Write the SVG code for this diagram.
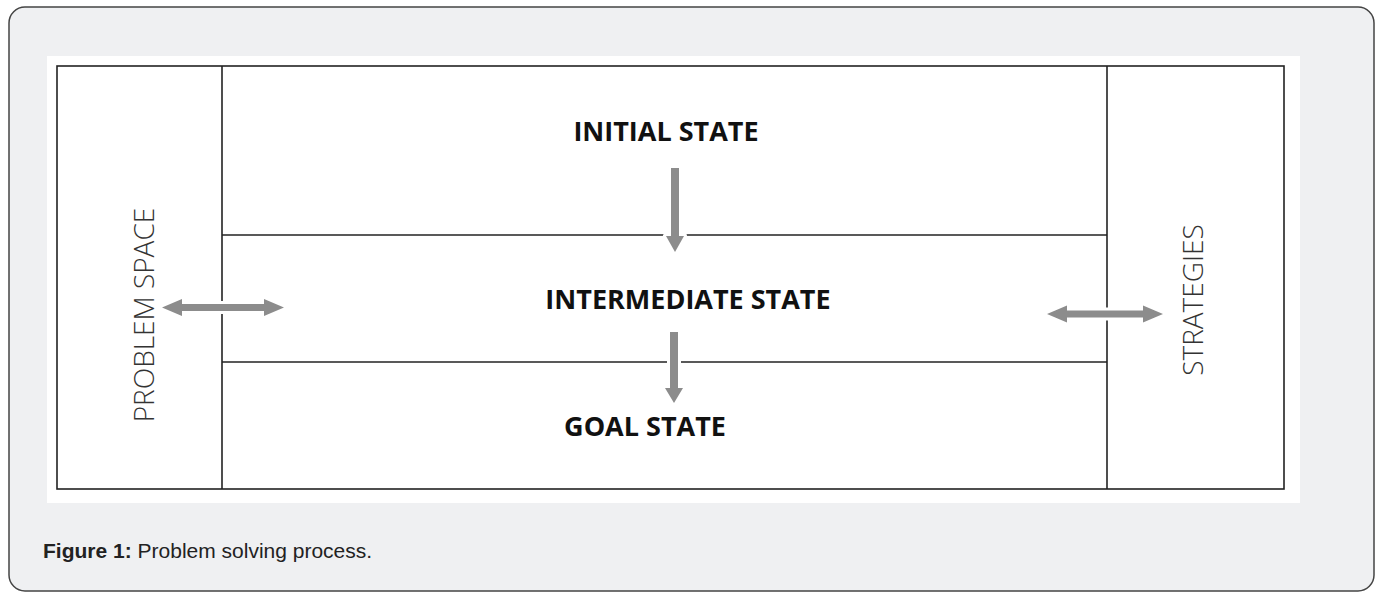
<svg xmlns="http://www.w3.org/2000/svg" width="1378" height="593" viewBox="0 0 1378 593">
<style>
.frame{fill:#eff0f2;stroke:#444;stroke-width:1.5}
.line{stroke:#222;stroke-width:1.6;fill:none}
.bold{font-family:"Open Sans","Liberation Sans",sans-serif;font-weight:700;font-size:27px;fill:#111;text-anchor:middle}
.side{font-family:"Open Sans","Liberation Sans",sans-serif;font-weight:300;font-size:28px;fill:#333;text-anchor:middle}
.arrow{fill:#8c8c8c;stroke:#fff;stroke-width:6;stroke-linejoin:round;paint-order:stroke}
.cap{font-family:"Liberation Sans",Arial,sans-serif;font-size:21px;fill:#222}
</style>
<rect class="frame" x="9" y="7" width="1365" height="584" rx="16"/>
<rect x="47" y="56" width="1253" height="447" fill="#fff"/>
<g id="box">
<rect class="line" x="57" y="66" width="1227" height="423"/>
<line class="line" x1="222" y1="66" x2="222" y2="489"/>
<line class="line" x1="1107" y1="66" x2="1107" y2="489"/>
<line class="line" x1="222" y1="235" x2="1107" y2="235"/>
<line class="line" x1="222" y1="362" x2="1107" y2="362"/>
</g>
<g id="problem-space"><text class="side" transform="translate(154,315) rotate(-90)">PROBLEM SPACE</text></g>
<g id="strategies"><text class="side" transform="translate(1203,300) rotate(-90)">STRATEGIES</text></g>
<g id="initial-state"><text class="bold" x="666" y="141">INITIAL STATE</text></g>
<g id="intermediate-state"><text class="bold" x="688" y="309">INTERMEDIATE STATE</text></g>
<g id="goal-state"><text class="bold" x="645" y="436">GOAL STATE</text></g>
<g id="connectors">
<polygon class="arrow" points="671,168 679,168 679,236 684,236 675,252 666,236 671,236"/>
<polygon class="arrow" points="670,332 678,332 678,388 683,388 674,403 665,388 670,388"/>
<polygon class="arrow" points="162,307.5 182,299 182,304 264,304 264,299 284,307.5 264,316 264,311 182,311 182,316"/>
<polygon class="arrow" points="1047,314 1067,305.5 1067,310.5 1143,310.5 1143,305.5 1163,314 1143,322.5 1143,317.5 1067,317.5 1067,322.5"/>
</g>
<text class="cap" x="43" y="558"><tspan font-weight="700">Figure 1:</tspan> Problem solving process.</text>
</svg>
